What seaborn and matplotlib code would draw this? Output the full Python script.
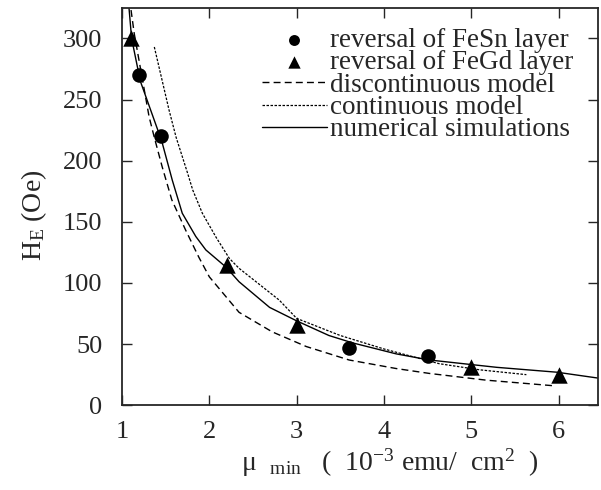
import matplotlib
matplotlib.use("Agg")
import matplotlib.pyplot as plt
import seaborn as sns

# data
fesn_x = [1.2, 1.45, 3.6, 4.5]
fesn_y = [270, 220, 47, 40]
fegd_x = [1.1, 2.2, 3.0, 5.0, 6.0]
fegd_y = [300, 115, 66, 31, 25]

disc_x = [1.09, 1.10, 1.14, 1.25, 1.31, 1.37, 1.46, 1.57, 1.73, 1.88, 2.0, 2.34, 2.72, 3.11, 3.6, 4.14, 4.52, 5.17, 5.93]
disc_y = [335, 325, 304, 260, 236, 219, 195, 168, 143, 121, 105, 76, 60, 48, 37, 30, 26, 20.5, 16]

cont_x = [1.37, 1.54, 1.62, 1.75, 1.81, 1.92, 2.08, 2.23, 2.34, 2.57, 2.80, 3.0, 3.5, 4.0, 4.63, 5.09, 5.63]
cont_y = [293, 241, 219, 190, 176, 157, 137, 120, 112, 99, 86, 71, 57, 46, 34, 29, 25]

num_x = [1.07, 1.08, 1.11, 1.21, 1.455, 1.576, 1.69, 1.845, 1.96, 2.19, 2.34, 2.69, 3.0, 3.37, 3.64, 4.14, 4.52, 5.29, 5.98, 6.47]
num_y = [335, 325, 300, 265, 216, 184, 157, 138, 127, 113, 101, 80, 69, 57, 51, 42, 37, 31, 27, 22]

labels = ["reversal of FeSn layer", "reversal of FeGd layer",
          "discontinuous model", "continuous model", "numerical simulations"]
xticks = [1, 2, 3, 4, 5, 6]
yticks = [0, 50, 100, 150, 200, 250, 300]

sns.set_style("ticks")
plt.rcParams["font.family"] = ["Liberation Serif", "DejaVu Serif"]
plt.rcParams["mathtext.fontset"] = "custom"
plt.rcParams["mathtext.rm"] = "Liberation Serif"
plt.rcParams["mathtext.it"] = "Liberation Serif:italic"

fig = plt.figure(figsize=(6.01, 4.90), dpi=100)
ax = fig.add_axes([0.203, 0.173, 0.792, 0.811])

sns.lineplot(x=disc_x, y=disc_y, ax=ax, color="black", lw=1.0, sort=False,
             linestyle=(0, (5, 3)), label=labels[2])
sns.lineplot(x=cont_x, y=cont_y, ax=ax, color="black", lw=0.9, sort=False,
             linestyle=(0, (2, 1.2)), label=labels[3])
sns.lineplot(x=num_x, y=num_y, ax=ax, color="black", lw=1.0, sort=False,
             linestyle="-", label=labels[4])
sns.scatterplot(x=fesn_x, y=fesn_y, ax=ax, color="black", marker="o", s=110,
                linewidth=0, label=labels[0], zorder=5)
sns.scatterplot(x=fegd_x, y=fegd_y, ax=ax, color="black", marker="^", s=140,
                linewidth=0, label=labels[1], zorder=5)

ax.set_xlim(1, 6.45)
ax.set_ylim(0, 325)
ax.set_xticks(xticks)
ax.set_yticks(yticks)
ax.tick_params(direction="in", length=7, width=1, top=True, right=True,
               labelsize=19)
ax.tick_params(axis="x", pad=11)
ax.tick_params(axis="y", pad=14)
for s in ax.spines.values():
    s.set_linewidth(1.3)

ax.set_xlabel("μ  $_{\\rm min}$   (  10$^{-3}$ emu/  cm$^{2}$  )", fontsize=20)
ax.xaxis.set_label_coords(0.563, -0.103)
ax.set_ylabel("H$_{\\rm E}$ (Oe)", fontsize=20)
ax.yaxis.set_label_coords(-0.153, 0.479)

handles, labs = ax.get_legend_handles_labels()
order = [labs.index(l) for l in labels]
leg = ax.legend([handles[i] for i in order], [labs[i] for i in order],
                loc="upper right", bbox_to_anchor=(0.99, 1.0), frameon=False,
                fontsize=19.5, handlelength=2.4, handletextpad=0.1,
                labelspacing=-0.1, markerscale=0.75, borderaxespad=0.35)

fig.savefig("out.png", dpi=100)
